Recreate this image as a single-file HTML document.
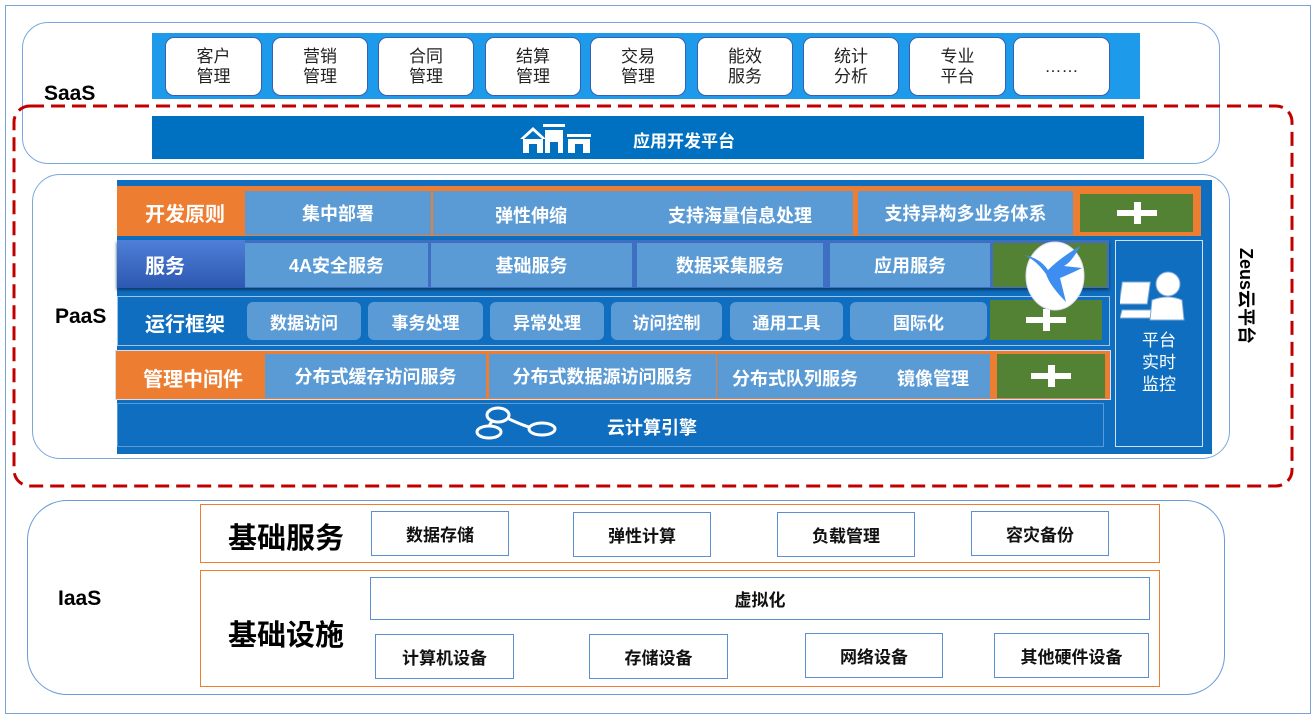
<!DOCTYPE html>
<html><head><meta charset="utf-8"><style>
*{margin:0;padding:0;box-sizing:border-box}
body{width:1315px;height:716px;background:#fff;position:relative;overflow:hidden;font-family:"Liberation Sans","Noto Sans CJK SC",sans-serif}
.a{position:absolute}
.c{display:flex;align-items:center;justify-content:center;text-align:center}
.tile{position:absolute;top:37px;height:59px;background:#fff;border:1.5px solid #3a5fb0;border-radius:9px;font-size:17px;line-height:20px;color:#222}
.cell{position:absolute;background:#5b9bd5;color:#fff;font-weight:bold;font-size:18px}
.green{position:absolute;background:#548235}
.green:before{content:"";position:absolute;left:50%;top:50%;width:40px;height:6px;margin:-3px 0 0 -20px;background:#fff}
.green:after{content:"";position:absolute;left:50%;top:50%;width:7px;height:22px;margin:-11px 0 0 -3px;background:#fff}
.lbl{position:absolute;color:#fff;font-weight:bold;font-size:20px}
.ib{position:absolute;border:1.5px solid #5b8fd0;background:#fff;font-weight:bold;font-size:17px;color:#111}
</style></head><body>
<div class="a" style="left:5px;top:5px;width:1306px;height:709px;border:1.5px solid #7aa4d4"></div>

<!-- SaaS -->
<div class="a" style="left:22px;top:22px;width:1198px;height:142px;border:1.5px solid #7aa8de;border-radius:26px"></div>
<div class="a" style="left:152px;top:33px;width:988px;height:66px;background:#1e9aea"></div>
<div class="tile c" style="left:165px;width:97px">客户<br>管理</div>
<div class="tile c" style="left:272px;width:96px">营销<br>管理</div>
<div class="tile c" style="left:378px;width:96px">合同<br>管理</div>
<div class="tile c" style="left:485px;width:96px">结算<br>管理</div>
<div class="tile c" style="left:590px;width:96px">交易<br>管理</div>
<div class="tile c" style="left:697px;width:96px">能效<br>服务</div>
<div class="tile c" style="left:803px;width:96px">统计<br>分析</div>
<div class="tile c" style="left:909px;width:97px">专业<br>平台</div>
<div class="tile c" style="left:1013px;width:97px">……</div>
<div class="a" style="left:44px;top:82px;font-size:21px;font-weight:bold">SaaS</div>
<div class="a" style="left:152px;top:116px;width:992px;height:43px;background:#0070c0"></div>
<svg class="a" style="left:518px;top:120px" width="76" height="36"><g fill="#fff"><path d="M2 19 L15 7 L28 19 L24 19 L15 11 L6 19Z"/><rect x="5" y="19" width="20" height="14"/><rect x="25" y="4" width="22" height="3"/><rect x="27" y="10" width="18" height="23"/><rect x="49" y="14" width="24" height="3"/><rect x="50" y="19" width="22" height="14"/></g><g fill="#0070c0"><rect x="11" y="24" width="8" height="9"/><rect x="32" y="22" width="8" height="11"/><rect x="57" y="24" width="8" height="9"/></g></svg>
<div class="a" style="left:633px;top:127px;color:#fff;font-weight:bold;font-size:17px">应用开发平台</div>

<!-- PaaS -->
<div class="a" style="left:32px;top:174px;width:1198px;height:285px;border:1.5px solid #7aa8de;border-radius:28px"></div>
<div class="a" style="left:117px;top:180px;width:1095px;height:274px;background:#0f6ebf"></div>
<div class="a" style="left:55px;top:305px;font-size:21px;font-weight:bold">PaaS</div>

<!-- row1 -->
<div class="a" style="left:117px;top:186px;width:1084px;height:50px;background:#ed7d31"></div>
<div class="lbl" style="left:145px;top:198px">开发原则</div>
<div class="cell c" style="left:245px;top:191px;width:186px;height:44px">集中部署</div>
<div class="cell" style="left:433px;top:191px;width:420px;height:44px"><span class="a" style="left:62px;top:11px">弹性伸缩</span><span class="a" style="left:235px;top:11px">支持海量信息处理</span></div>
<div class="cell c" style="left:858px;top:191px;width:215px;height:44px">支持异构多业务体系</div>
<div class="green" style="left:1080px;top:194px;width:113px;height:38px"></div>

<!-- row2 -->
<div class="a" style="left:117px;top:240px;width:992px;height:48px;background:#3f6fc2;box-shadow:0 2px 3px #0a3a6a"></div>
<div class="a" style="left:117px;top:240px;width:128px;height:48px;background:linear-gradient(#4f7fd8,#2c58b0)"></div>
<div class="lbl" style="left:145px;top:250px">服务</div>
<div class="cell c" style="left:245px;top:243px;width:183px;height:44px">4A安全服务</div>
<div class="cell c" style="left:431px;top:243px;width:201px;height:44px">基础服务</div>
<div class="cell c" style="left:637px;top:243px;width:186px;height:44px">数据采集服务</div>
<div class="cell c" style="left:830px;top:243px;width:160px;height:44px">应用服务</div>
<div class="a" style="left:993px;top:243px;width:114px;height:44px;background:#548235"></div>

<!-- row3 -->
<div class="a" style="left:117px;top:296px;width:993px;height:50px;border:1.5px solid #9cc3e8"></div>
<div class="lbl" style="left:145px;top:308px">运行框架</div>
<div class="cell c" style="left:247px;top:302px;width:114px;height:38px;border-radius:6px;font-size:17px">数据访问</div>
<div class="cell c" style="left:368px;top:302px;width:115px;height:38px;border-radius:6px;font-size:17px">事务处理</div>
<div class="cell c" style="left:490px;top:302px;width:114px;height:38px;border-radius:6px;font-size:17px">异常处理</div>
<div class="cell c" style="left:611px;top:302px;width:111px;height:38px;border-radius:6px;font-size:17px">访问控制</div>
<div class="cell c" style="left:730px;top:302px;width:113px;height:38px;border-radius:6px;font-size:17px">通用工具</div>
<div class="cell c" style="left:850px;top:302px;width:137px;height:38px;border-radius:6px;font-size:17px">国际化</div>
<div class="green" style="left:990px;top:300px;width:112px;height:40px"></div>

<!-- row4 -->
<div class="a" style="left:115px;top:350px;width:996px;height:50px;background:#ed7d31;border:1.5px solid #cfe2f5"></div>
<div class="lbl" style="left:143px;top:363px">管理中间件</div>
<div class="cell c" style="left:265px;top:354px;width:221px;height:44px">分布式缓存访问服务</div>
<div class="cell c" style="left:489px;top:354px;width:227px;height:44px">分布式数据源访问服务</div>
<div class="cell" style="left:717px;top:354px;width:273px;height:44px"><span class="a" style="left:15px;top:11px">分布式队列服务</span><span class="a" style="left:180px;top:11px">镜像管理</span></div>
<div class="green" style="left:997px;top:354px;width:108px;height:44px"></div>

<!-- row5 -->
<div class="a" style="left:117px;top:403px;width:987px;height:44px;border:1.5px solid #5b9bd5;background:#0f6ebf"></div>
<svg class="a" style="left:472px;top:405px" width="86" height="36"><g fill="none" stroke="#fff" stroke-width="3"><ellipse cx="26" cy="10" rx="11" ry="7"/><ellipse cx="17" cy="27" rx="12" ry="6"/><ellipse cx="70" cy="24" rx="13" ry="6"/><path d="M37 14 Q50 20 57 22"/><path d="M20 16 L17 21"/></g></svg>
<div class="a" style="left:607px;top:414px;color:#fff;font-weight:bold;font-size:18px">云计算引擎</div>

<!-- monitor -->
<div class="a" style="left:1115px;top:240px;width:88px;height:207px;border:1.5px solid #cfe2f5"></div>
<svg class="a" style="left:1120px;top:270px" width="72" height="52"><g fill="#fff" stroke="#7fa9d6" stroke-width="1"><rect x="4" y="12" width="28" height="22" transform="skewX(-8)"/><path d="M2 40 L40 40 L34 48 L0 48Z"/><circle cx="48" cy="14" r="12"/><path d="M30 50 L32 30 Q48 24 62 30 L64 50Z"/></g></svg>
<div class="a c" style="left:1115px;top:330px;width:88px;color:#fff;font-size:17px;line-height:22px">平台<br>实时<br>监控</div>

<!-- bird -->
<svg class="a" style="left:1020px;top:240px" width="70" height="72"><ellipse cx="35" cy="36" rx="29" ry="34" fill="#fff" stroke="#dde" /><path d="M4 15 Q20 18 28 30 Q40 18 60 6 Q52 22 44 26 L62 28 Q50 34 40 38 L46 62 Q30 46 26 34 Q16 20 4 15Z" fill="#3d8ef0"/></svg>

<!-- dashed -->
<svg class="a" style="left:0;top:0" width="1315" height="716"><rect x="14" y="106" width="1278" height="380" rx="16" fill="none" stroke="#c00000" stroke-width="3" stroke-dasharray="14 7"/></svg>
<div class="a" style="left:1227px;top:283px;transform:rotate(90deg);font-weight:bold;font-size:18px;white-space:nowrap;width:100px;text-align:center;margin-left:-30px">Zeus云平台</div>

<!-- IaaS -->
<div class="a" style="left:27px;top:500px;width:1198px;height:195px;border:1.5px solid #6a9ad8;border-radius:40px"></div>
<div class="a" style="left:58px;top:587px;font-size:21px;font-weight:bold">IaaS</div>
<div class="a" style="left:200px;top:504px;width:960px;height:59px;border:1.5px solid #ed7d31"></div>
<div class="a" style="left:228px;top:515px;font-size:29px;font-weight:bold">基础服务</div>
<div class="ib c" style="left:371px;top:511px;width:138px;height:45px">数据存储</div>
<div class="ib c" style="left:573px;top:512px;width:138px;height:45px">弹性计算</div>
<div class="ib c" style="left:777px;top:512px;width:138px;height:45px">负载管理</div>
<div class="ib c" style="left:971px;top:511px;width:138px;height:45px">容灾备份</div>
<div class="a" style="left:200px;top:570px;width:960px;height:117px;border:1.5px solid #ed7d31"></div>
<div class="a" style="left:228px;top:612px;font-size:29px;font-weight:bold">基础设施</div>
<div class="ib c" style="left:370px;top:577px;width:780px;height:43px">虚拟化</div>
<div class="ib c" style="left:375px;top:634px;width:139px;height:45px">计算机设备</div>
<div class="ib c" style="left:589px;top:634px;width:139px;height:45px">存储设备</div>
<div class="ib c" style="left:805px;top:633px;width:138px;height:45px">网络设备</div>
<div class="ib c" style="left:994px;top:633px;width:155px;height:45px">其他硬件设备</div>
</body></html>
